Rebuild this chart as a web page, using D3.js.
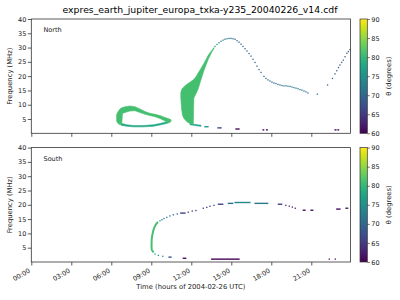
<!DOCTYPE html>
<html><head><meta charset="utf-8">
<script src="https://cdn.jsdelivr.net/npm/d3@7"></script>
<style>
html,body{margin:0;padding:0;background:#fff;}
svg{display:block;font-family:"DejaVu Sans",sans-serif;}
</style></head>
<body><svg id="chart" width="400" height="300"></svg>
<script>
// ---------------- DATA ----------------
const titleText = "expres_earth_jupiter_europa_txka-y235_20040226_v14.cdf";
const panelNames = ["North", "South"];
const xTickHours = [0, 3, 6, 9, 12, 15, 18, 21];
const xTickLabels = ["00:00", "03:00", "06:00", "09:00", "12:00", "15:00", "18:00", "21:00"];
const yTicks = [5, 10, 15, 20, 25, 30, 35, 40];
const cbTicks = [60, 65, 70, 75, 80, 85, 90];

// North: filled emission bands (time h, f low, f high MHz, theta deg)
const nLoopT  = [6.40, 6.50, 6.65, 6.78, 6.84, 7.03, 7.40, 7.78, 8.15, 8.53, 8.90, 9.28, 9.65, 10.03, 10.25, 10.40, 10.48];
const nLoopLo = [4.2, 3.4, 3.0, 3.1, 6.9, 7.3, 7.8, 7.9, 7.3, 6.65, 6.2, 5.8, 5.2, 4.3, 3.6, 3.8, 4.2];
const nLoopHi = [6.6, 7.5, 8.5, 8.9, 9.0, 9.3, 9.55, 9.3, 8.5, 7.6, 7.0, 6.65, 6.2, 5.5, 5.2, 4.9, 4.7];
const nLoopTheta = 81;

const nLoopLowT  = [6.73, 7.15, 7.65, 8.40, 9.15, 9.65, 10.03, 10.25];
const nLoopLowLo = [2.8, 2.5, 2.25, 2.25, 2.45, 2.9, 3.3, 3.6];
const nLoopLowHi = [3.5, 3.0, 2.7, 2.7, 2.95, 3.4, 3.9, 4.2];
const nLoopLowTheta = 78;

const nWedgeT  = [11.21, 11.27, 11.34, 11.45, 11.60, 11.75, 11.90, 12.15, 12.19, 12.35, 12.50, 12.71, 12.95, 13.28, 13.55, 13.70];
const nWedgeLo = [12.6, 8.5, 6.3, 5.2, 4.4, 3.8, 3.4, 3.1, 12.3, 13.8, 15.3, 18.5, 22.0, 26.0, 28.5, 29.6];
const nWedgeHi = [14.2, 15.2, 15.8, 16.3, 16.9, 17.4, 17.9, 18.7, 18.9, 19.8, 21.0, 22.6, 24.5, 27.4, 29.1, 30.0];
const nWedgeTheta = 81;

const nTailT  = [11.90, 12.15, 12.43, 12.73];
const nTailLo = [3.0, 2.8, 2.6, 2.45];
const nTailHi = [3.5, 3.2, 3.0, 2.85];
const nTailTheta = 77;

// North: isolated dots (time h, freq MHz, theta deg)
const nDotT = [13.78, 13.93, 14.08, 14.23, 14.38, 14.53, 14.68, 14.83, 14.98, 15.13, 15.28, 15.43, 15.58, 15.73, 15.88, 16.03, 16.18, 16.33, 16.48, 16.63, 16.78, 16.93, 17.08, 17.23,
  17.45, 17.60, 17.75, 17.90, 18.05, 18.20, 18.35, 18.50, 18.65, 18.80, 18.95, 19.10, 19.25, 19.40, 19.55, 19.70, 19.85, 20.00, 20.15, 20.30, 20.45, 20.60, 20.75,
  21.45, 22.22, 22.59, 22.78, 22.91, 23.04, 23.15, 23.28, 23.40, 23.53, 23.66, 23.78, 23.90];
const nDotF = [30.4, 31.1, 31.7, 32.2, 32.6, 32.9, 33.1, 33.2, 33.2, 33.1, 32.9, 32.4, 31.9, 31.2, 30.4, 29.6, 28.8, 27.9, 27.0, 25.9, 24.8, 23.5, 22.3, 21.3,
  19.9, 19.2, 18.7, 18.3, 17.9, 17.6, 17.4, 17.1, 16.9, 16.7, 16.6, 16.6, 16.5, 16.4, 16.2, 16.0, 15.8, 15.6, 15.3, 15.1, 14.8, 14.5, 14.1,
  13.7, 16.9, 19.2, 20.8, 21.9, 23.0, 23.9, 24.8, 25.6, 26.8, 28.0, 28.6, 29.3];
const nDotTheta = [77, 76, 75, 74, 73, 72, 72, 71, 71, 71, 70, 70, 70, 70, 70, 70, 70, 70, 70, 70, 70, 70, 70, 70,
  70, 70, 70, 70, 70, 70, 71, 71, 71, 71, 72, 72, 72, 72, 72, 72, 72, 72, 72, 72, 72, 72, 72,
  71, 69, 69, 69, 69, 69, 69, 69, 69, 69, 69, 69, 69];

// North: short dashes (start h, end h, freq MHz, theta deg)
const nDashT0 = [13.02, 14.00, 15.35, 17.38, 17.65, 22.78, 23.00];
const nDashT1 = [13.25, 14.23, 15.58, 17.43, 17.70, 22.85, 23.05];
const nDashF  = [2.3, 1.9, 1.5, 1.2, 1.2, 1.2, 1.2];
const nDashTheta = [76, 67, 61, 61, 61, 61, 61];

// South: thick green stroke (time h, freq MHz)
const sThickT = [9.17, 9.04, 9.02, 9.02, 9.03, 9.08, 9.15, 9.24, 9.35, 9.50];
const sThickF = [3.4, 4.2, 5.0, 6.5, 8.0, 9.5, 11.0, 12.2, 13.2, 14.0];
const sThickTheta = 81;

// South: dots
const sDotT = [9.65, 9.80, 9.95, 10.16, 10.40, 10.65, 10.95, 11.77, 12.07, 12.35, 12.90, 13.16, 13.40, 13.70,
  19.09, 19.35, 19.58, 19.80, 9.28, 9.53, 9.86, 22.35, 22.80];
const sDotF = [14.4, 14.8, 15.2, 15.6, 16.1, 16.5, 16.8, 17.4, 17.8, 18.0, 18.8, 19.1, 19.5, 19.8,
  19.8, 19.5, 19.2, 18.8, 2.8, 2.3, 2.0, 1.0, 1.0];
const sDotTheta = [75, 74, 73, 72, 70, 69, 68, 64, 64, 64, 64, 64, 65, 66,
  63, 63, 62, 62, 77, 76, 75, 61, 61];

// South: dashes
const sDashT0 = [11.21, 14.03, 14.78, 15.28, 16.78, 18.53, 20.40, 20.98, 22.91, 23.60, 10.33, 11.40, 13.53, 13.85];
const sDashT1 = [11.53, 14.36, 15.11, 16.40, 17.73, 18.78, 20.53, 21.11, 23.15, 23.73, 10.48, 11.58, 13.78, 15.58];
const sDashF  = [17.1, 20.2, 20.5, 20.8, 20.5, 20.2, 18.1, 18.1, 18.5, 18.8, 1.7, 1.3, 1.0, 1.0];
const sDashTheta = [66, 66, 71, 74, 72, 66, 61, 61, 61, 62, 68, 61, 60.5, 60.5];

// ---------------- DRAW ----------------
const svg = d3.select("#chart");
const L = 31.3, R = 350.5;
const panels = [{top: 19, bottom: 133.3}, {top: 147.6, bottom: 262}];
const cbX = 360, cbW = 7.3;
const frameColor = "#333";

const x = d3.scaleLinear().domain([0, 23.94]).range([L, R]);
const color = d3.scaleSequential(d3.interpolateViridis).domain([60, 90]);

svg.append("text").attr("x", 200).attr("y", 12.7).attr("text-anchor", "middle")
  .attr("font-size", 9.3).attr("fill", "#000").text(titleText);

const defs = svg.append("defs");
const grad = defs.append("linearGradient").attr("id", "vir").attr("x1", 0).attr("y1", 1).attr("x2", 0).attr("y2", 0);
d3.range(0, 1.0001, 0.05).forEach(p => grad.append("stop").attr("offset", p).attr("stop-color", d3.interpolateViridis(p)));

function band(g, y, T, Lo, Hi, theta) {
  const pts = T.map((t, i) => ({t, lo: Lo[i], hi: Hi[i]}));
  g.append("path").datum(pts)
    .attr("d", d3.area().x(d => x(d.t)).y0(d => y(d.lo)).y1(d => y(d.hi)))
    .attr("fill", color(theta)).attr("stroke", color(theta)).attr("stroke-width", 0.6);
}
function dots(g, y, T, F, TH) {
  g.selectAll(null).data(T.map((t, i) => ({t, f: F[i], th: TH[i]}))).enter().append("rect")
    .attr("x", d => x(d.t) - 0.65).attr("y", d => y(d.f) - 0.65)
    .attr("width", 1.3).attr("height", 1.3).attr("fill", d => color(d.th));
}
function dashes(g, y, T0, T1, F, TH) {
  g.selectAll(null).data(T0.map((t, i) => ({t0: t, t1: T1[i], f: F[i], th: TH[i]}))).enter().append("rect")
    .attr("x", d => x(d.t0) - 0.6).attr("y", d => y(d.f) - 0.7)
    .attr("width", d => Math.max(1.2, x(d.t1) - x(d.t0) + 1.2)).attr("height", 1.4)
    .attr("fill", d => color(d.th));
}

panels.forEach((p, k) => {
  const y = d3.scaleLinear().domain([0, 40]).range([p.bottom, p.top]);
  const g = svg.append("g");
  const clipId = "clip" + k;
  defs.append("clipPath").attr("id", clipId).append("rect")
    .attr("x", L).attr("y", p.top).attr("width", R - L).attr("height", p.bottom - p.top);
  const d = g.append("g").attr("clip-path", `url(#${clipId})`);

  if (k === 0) {
    band(d, y, nLoopLowT, nLoopLowLo, nLoopLowHi, nLoopLowTheta);
    band(d, y, nLoopT, nLoopLo, nLoopHi, nLoopTheta);
    band(d, y, nTailT, nTailLo, nTailHi, nTailTheta);
    band(d, y, nWedgeT, nWedgeLo, nWedgeHi, nWedgeTheta);
    dots(d, y, nDotT, nDotF, nDotTheta);
    dashes(d, y, nDashT0, nDashT1, nDashF, nDashTheta);
  } else {
    d.append("path").datum(sThickT.map((t, i) => ({t, f: sThickF[i]})))
      .attr("d", d3.line().x(q => x(q.t)).y(q => y(q.f)))
      .attr("fill", "none").attr("stroke", color(sThickTheta)).attr("stroke-width", 2);
    dots(d, y, sDotT, sDotF, sDotTheta);
    dashes(d, y, sDashT0, sDashT1, sDashF, sDashTheta);
  }

  g.append("rect").attr("x", L).attr("y", p.top).attr("width", R - L).attr("height", p.bottom - p.top)
    .attr("fill", "none").attr("stroke", frameColor).attr("stroke-width", 0.8);

  const ya = g.append("g").attr("transform", `translate(${L},0)`)
    .call(d3.axisLeft(y).tickValues(yTicks).tickSize(3.5).tickPadding(1.5).tickFormat(d3.format("d")));
  ya.select(".domain").remove();
  ya.selectAll("line").attr("stroke", frameColor).attr("stroke-width", 0.8);
  ya.selectAll("text").attr("font-size", 6.5).attr("fill", "#222").attr("font-family", "DejaVu Sans");

  const xa = g.append("g").attr("transform", `translate(0,${p.bottom})`)
    .call(d3.axisBottom(x).tickValues(xTickHours).tickSize(3.5).tickFormat((v, i) => k === 1 ? xTickLabels[i] : ""));
  xa.select(".domain").remove();
  xa.selectAll("line").attr("stroke", frameColor).attr("stroke-width", 0.8);
  if (k === 1) {
    xa.selectAll("text").attr("font-size", 6.5).attr("fill", "#222").attr("font-family", "DejaVu Sans")
      .attr("text-anchor", "end").attr("y", 0).attr("dy", 0)
      .attr("transform", "translate(-1.2,10) rotate(-30)");
  }

  g.append("text").attr("transform", `translate(12.4,${(p.top + p.bottom) / 2}) rotate(-90)`)
    .attr("text-anchor", "middle").attr("font-size", 6.8).attr("fill", "#222").text("Frequency (MHz)");
  g.append("text").attr("x", 43.5).attr("y", p.top + 13).attr("font-size", 6.5).attr("fill", "#222").text(panelNames[k]);

  const cy = d3.scaleLinear().domain([60, 90]).range([p.bottom, p.top]);
  g.append("rect").attr("x", cbX).attr("y", p.top).attr("width", cbW).attr("height", p.bottom - p.top)
    .attr("fill", "url(#vir)").attr("stroke", frameColor).attr("stroke-width", 0.7);
  const ca = g.append("g").attr("transform", `translate(${cbX + cbW},0)`)
    .call(d3.axisRight(cy).tickValues(cbTicks).tickSize(2.5).tickPadding(1.5));
  ca.select(".domain").remove();
  ca.selectAll("line").attr("stroke", frameColor).attr("stroke-width", 0.7);
  ca.selectAll("text").attr("font-size", 6.5).attr("fill", "#222").attr("font-family", "DejaVu Sans");
  g.append("text").attr("transform", `translate(390.5,${(p.top + p.bottom) / 2}) rotate(-90)`)
    .attr("text-anchor", "middle").attr("font-size", 6.8).attr("fill", "#222").text("θ (degrees)");
});

svg.append("text").attr("x", (L + R) / 2).attr("y", 288.5).attr("text-anchor", "middle")
  .attr("font-size", 6.8).attr("fill", "#222").text("Time (hours of 2004-02-26 UTC)");
</script></body></html>
